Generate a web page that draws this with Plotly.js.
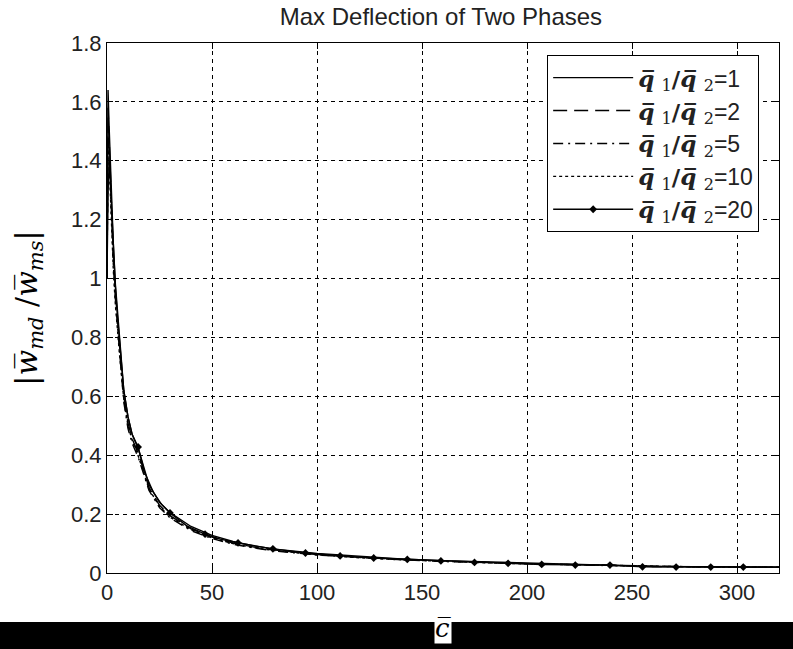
<!DOCTYPE html>
<html>
<head>
<meta charset="utf-8">
<script src="https://cdn.plot.ly/plotly-3.0.1.min.js"></script>
<style>html,body{margin:0;padding:0;background:#fff;}#chart{width:793px;height:649px;}</style>
</head>
<body>
<div id="chart"></div>
<script>
// shared abscissa for the smooth curves
const cBar = [0, 0.5, 1, 1.5, 2, 3, 4, 5, 6, 8, 10, 12, 15, 20, 25, 30, 40, 50, 60, 70, 80, 100, 120, 140, 160, 180, 200, 220, 240, 260, 280, 300, 320];

const ratio1  = [1.00, 1.64, 1.52, 1.40, 1.30, 1.12, 0.98, 0.88, 0.80, 0.62, 0.53, 0.47, 0.42, 0.30, 0.240, 0.205, 0.158, 0.128, 0.107, 0.092, 0.081, 0.066, 0.056, 0.048, 0.042, 0.038, 0.034, 0.030, 0.027, 0.022, 0.021, 0.020, 0.020];
const ratio2  = [1.00, 1.58, 1.48, 1.36, 1.26, 1.08, 0.95, 0.85, 0.77, 0.60, 0.51, 0.455, 0.405, 0.29, 0.230, 0.195, 0.150, 0.122, 0.102, 0.088, 0.078, 0.063, 0.053, 0.046, 0.040, 0.036, 0.032, 0.029, 0.026, 0.022, 0.021, 0.020, 0.020];
const ratio5  = [1.00, 1.50, 1.44, 1.33, 1.23, 1.05, 0.93, 0.83, 0.75, 0.58, 0.49, 0.44, 0.39, 0.28, 0.222, 0.187, 0.144, 0.117, 0.098, 0.085, 0.075, 0.061, 0.052, 0.045, 0.039, 0.035, 0.031, 0.028, 0.025, 0.022, 0.021, 0.020, 0.020];
const ratio10 = [1.00, 1.45, 1.40, 1.30, 1.21, 1.03, 0.91, 0.82, 0.74, 0.59, 0.50, 0.45, 0.395, 0.285, 0.226, 0.190, 0.147, 0.119, 0.100, 0.086, 0.076, 0.062, 0.052, 0.045, 0.039, 0.035, 0.031, 0.028, 0.025, 0.022, 0.021, 0.020, 0.020];

// ratio 20 curve; markers drawn at the sampled points listed in marked20
const cBar20  = [0, 0.5, 1, 1.5, 2, 3, 4, 5, 6, 8, 10, 12, 14.8, 18, 22, 26, 30, 38, 46.7, 54, 62.4, 70, 79, 94.5, 111, 127, 143, 159, 175, 191, 207, 223, 239.5, 255, 271, 287.5, 303, 320];
const ratio20 = [1.00, 1.30, 1.38, 1.35, 1.27, 1.10, 0.97, 0.87, 0.79, 0.62, 0.53, 0.47, 0.428, 0.34, 0.275, 0.233, 0.204, 0.160, 0.132, 0.115, 0.102, 0.092, 0.082, 0.068, 0.058, 0.051, 0.046, 0.041, 0.036, 0.033, 0.029, 0.027, 0.027, 0.021, 0.020, 0.020, 0.020, 0.020];
const marked20 = [14.8, 30, 46.7, 62.4, 79, 94.5, 111, 127, 143, 159, 175, 191, 207, 223, 239.5, 255, 271, 287.5, 303];

const seriesNames = ["1", "2", "5", "10", "20"];
const xTicks = [0, 50, 100, 150, 200, 250, 300];
const yTicks = [0, 0.2, 0.4, 0.6, 0.8, 1, 1.2, 1.4, 1.6, 1.8];
const yTickText = ["0", "0.2", "0.4", "0.6", "0.8", "1", "1.2", "1.4", "1.6", "1.8"];

function qName(r) {
  return '<span style="font-family:\'DejaVu Serif\'"><b><i>q\u0305</i></b> <sub>1</sub><b>/</b><b><i>q\u0305</i></b> <sub>2</sub></span>=' + r;
}

const lw = 1.4;
const markY20 = marked20.map(v => ratio20[cBar20.indexOf(v)]);
const traces = [
  {x: cBar, y: ratio1, name: qName(seriesNames[0]), mode: 'lines', line: {color: '#000', width: lw, dash: 'solid'}},
  {x: cBar, y: ratio2, name: qName(seriesNames[1]), mode: 'lines', line: {color: '#000', width: lw, dash: '14px,7px'}},
  {x: cBar, y: ratio5, name: qName(seriesNames[2]), mode: 'lines', line: {color: '#000', width: lw, dash: '10px,5px,2px,5px'}},
  {x: cBar, y: ratio10, name: qName(seriesNames[3]), mode: 'lines', line: {color: '#000', width: lw, dash: '3px,3px'}},
  {x: cBar20, y: ratio20, name: qName(seriesNames[4]), legendgroup: 'r20', showlegend: false, mode: 'lines', line: {color: '#000', width: lw}},
  {x: marked20, y: markY20, name: qName(seriesNames[4]), legendgroup: 'r20', showlegend: false, mode: 'markers', marker: {symbol: 'diamond', size: 6, color: '#000'}},
  // legend entry for the ratio 20 series (line with marker)
  {x: [null], y: [null], name: qName(seriesNames[4]), legendgroup: 'r20', showlegend: true, mode: 'lines+markers', line: {color: '#000', width: lw}, marker: {symbol: 'diamond', size: 6, color: '#000'}}
];

const layout = {
  width: 793, height: 649,
  margin: {l: 107, r: 14, t: 43, b: 76},
  paper_bgcolor: '#fff', plot_bgcolor: '#fff',
  showlegend: true,
  title: {text: 'Max Deflection of Two Phases', font: {family: 'Liberation Sans', size: 24, color: '#222'}, x: 0.556, xanchor: 'center', y: 0.974, yanchor: 'middle'},
  xaxis: {
    range: [0, 320], tickvals: xTicks, ticktext: xTicks.map(String),
    showgrid: true, gridcolor: '#000', gridwidth: 1, griddash: '4px,4px',
    showline: true, linecolor: '#000', linewidth: 1, mirror: 'ticks',
    ticks: 'inside', ticklen: 6, tickcolor: '#000', zeroline: false,
    tickfont: {family: 'Liberation Sans', size: 22, color: '#222'}
  },
  yaxis: {
    range: [0, 1.8], tickvals: yTicks, ticktext: yTickText,
    showgrid: true, gridcolor: '#000', gridwidth: 1, griddash: '4px,4px',
    showline: true, linecolor: '#000', linewidth: 1, mirror: 'ticks',
    ticks: 'inside', ticklen: 6, tickcolor: '#000', zeroline: false,
    tickfont: {family: 'Liberation Sans', size: 22, color: '#222'},
    title: {text: '|<i>w\u0305</i><sub><i>md</i></sub> /<i>w\u0305</i><sub><i>ms</i></sub>|', font: {family: 'DejaVu Serif', size: 30, color: '#000'}, standoff: 24}
  },
  legend: {
    x: 0.655, y: 0.977, xanchor: 'left', yanchor: 'top',
    bgcolor: '#fff', bordercolor: '#000', borderwidth: 1,
    font: {family: 'Liberation Sans', size: 23, color: '#222'},
    tracegroupgap: 0, itemwidth: 80
  },
  annotations: [
    {text: '<i>c\u0305</i>', xref: 'paper', yref: 'paper', x: 0.5, y: -0.104, xanchor: 'center', yanchor: 'middle',
     showarrow: false, font: {family: 'DejaVu Serif', size: 26, color: '#000'}, bgcolor: '#fff', borderpad: 0}
  ],
  shapes: [
    {type: 'rect', xref: 'paper', yref: 'paper', x0: -0.2, x1: 1.1, y0: -0.0925, y1: -0.2, fillcolor: '#000', line: {width: 0}, layer: 'below'}
  ]
};

Plotly.newPlot('chart', traces, layout, {displayModeBar: false, staticPlot: true});
</script>
</body>
</html>
